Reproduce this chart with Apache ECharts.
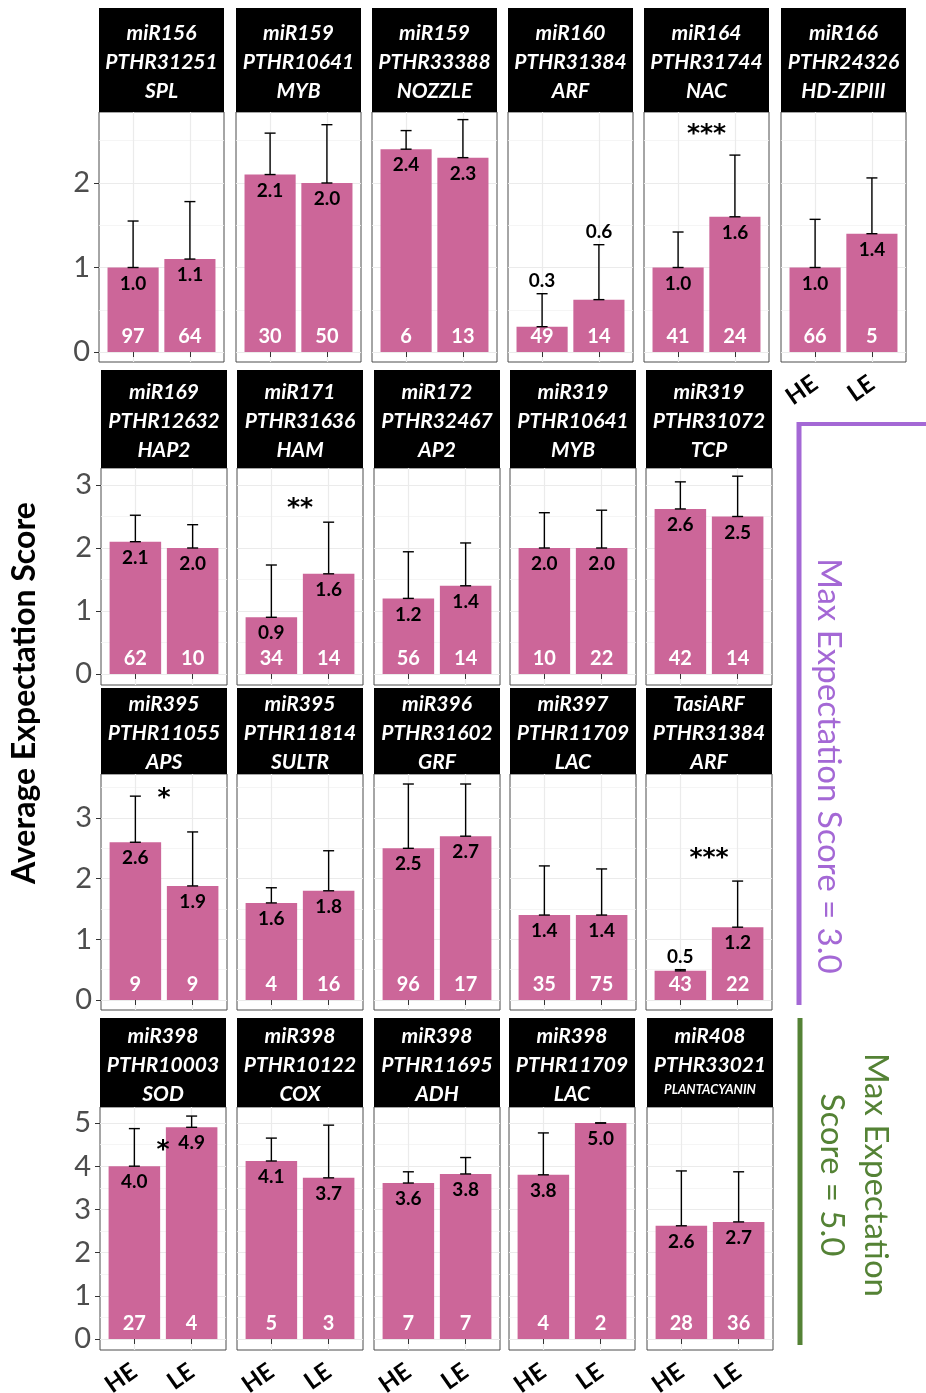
<!DOCTYPE html>
<html>
<head>
<meta charset="utf-8">
<script src="https://cdn.jsdelivr.net/npm/echarts@6/dist/echarts.min.js"></script>
<style>
  html, body { margin: 0; padding: 0; background: #fff; }
  #chart { width: 926px; height: 1393px; }
</style>
</head>
<body>
<div id="chart"></div>
<script>
// groups on the x axis of every facet
const groups = ['HE', 'LE']

// facet strip labels (row by row, left to right)
const mirna = ['miR156', 'miR159', 'miR159', 'miR160', 'miR164', 'miR166',
  'miR169', 'miR171', 'miR172', 'miR319', 'miR319',
  'miR395', 'miR395', 'miR396', 'miR397', 'TasiARF',
  'miR398', 'miR398', 'miR398', 'miR398', 'miR408']
const family = ['PTHR31251', 'PTHR10641', 'PTHR33388', 'PTHR31384', 'PTHR31744', 'PTHR24326',
  'PTHR12632', 'PTHR31636', 'PTHR32467', 'PTHR10641', 'PTHR31072',
  'PTHR11055', 'PTHR11814', 'PTHR31602', 'PTHR11709', 'PTHR31384',
  'PTHR10003', 'PTHR10122', 'PTHR11695', 'PTHR11709', 'PTHR33021']
const gene = ['SPL', 'MYB', 'NOZZLE', 'ARF', 'NAC', 'HD-ZIPIII',
  'HAP2', 'HAM', 'AP2', 'MYB', 'TCP',
  'APS', 'SULTR', 'GRF', 'LAC', 'ARF',
  'SOD', 'COX', 'ADH', 'LAC', 'PLANTACYANIN']

// mean expectation score and top of the error bar
const heMean = [1.0, 2.1, 2.4, 0.3, 1.0, 1.0,
  2.1, 0.9, 1.2, 2.0, 2.62,
  2.6, 1.6, 2.5, 1.4, 0.48,
  4.0, 4.12, 3.61, 3.8, 2.62]
const leMean = [1.1, 2.0, 2.3, 0.62, 1.6, 1.4,
  2.0, 1.59, 1.4, 2.0, 2.5,
  1.88, 1.8, 2.7, 1.4, 1.2,
  4.9, 3.73, 3.82, 5.0, 2.71]
const heUpper = [1.55, 2.59, 2.62, 0.69, 1.42, 1.57,
  2.52, 1.73, 1.94, 2.56, 3.05,
  3.36, 1.85, 3.56, 2.21, 0.5,
  4.87, 4.65, 3.87, 4.77, 3.89]
const leUpper = [1.78, 2.69, 2.75, 1.27, 2.33, 2.06,
  2.37, 2.41, 2.08, 2.6, 3.14,
  2.77, 2.46, 3.56, 2.16, 1.96,
  5.16, 4.95, 4.2, 5.0, 3.87]

// number of genes in each group
const heCount = [97, 30, 6, 49, 41, 66,
  62, 34, 56, 10, 42,
  9, 4, 96, 35, 43,
  27, 5, 7, 4, 28]
const leCount = [64, 50, 13, 14, 24, 5,
  10, 14, 14, 22, 14,
  9, 16, 17, 75, 22,
  4, 3, 7, 2, 36]

// significance stars and their height
const signif = ['', '', '', '', '***', '',
  '', '**', '', '', '',
  '*', '', '', '', '***',
  '*', '', '', '', '']
const signifY = [0, 0, 0, 0, 2.63, 0,
  0, 2.71, 0, 0, 0,
  3.41, 0, 0, 0, 2.42,
  4.49, 0, 0, 0, 0]

// y scale of every row
const rowPanels = [6, 5, 5, 5]
const rowTicks = [[0, 1, 2], [0, 1, 2, 3], [0, 1, 2, 3], [0, 1, 2, 3, 4, 5]]
const rowRange = [[-0.118, 2.84], [-0.175, 3.27], [-0.165, 3.725], [-0.255, 5.37]]

// page layout
const layout = {
  headerTop: [8, 370, 688, 1018],
  panelTop: [112, 468, 774, 1107],
  panelBottom: [362, 685, 1010, 1350],
  colLeft: [[99, 236, 372, 508, 644, 781], [101, 237, 374, 510, 646], [101, 237, 374, 510, 646], [100, 237, 374, 509, 647]],
  panelWidth: [125, 126, 126, 126],
}

const barColor = '#cc6699'
const purple = '#a468d5'
const green = '#548235'

const chart = echarts.init(document.getElementById('chart'), null, { renderer: 'canvas' })

const grids = []
const xAxes = []
const yAxes = []
const series = []
const graphics = []

function renderBarExtras(params, api) {
  const x = api.value(0)
  const m = api.value(1)
  const up = api.value(2)
  const n = api.value(3)
  const pm = api.coord([x, m])
  const pu = api.coord([x, up])
  const p0 = api.coord([x, 0])
  const cap = 5.5
  const ls = { stroke: '#000', lineWidth: 1.4 }
  const labelY = m < 0.7 ? pu[1] - 13 : pm[1] + 16
  return {
    type: 'group',
    children: [
      { type: 'line', shape: { x1: pm[0], y1: pm[1], x2: pu[0], y2: pu[1] }, style: ls },
      { type: 'line', shape: { x1: pu[0] - cap, y1: pu[1], x2: pu[0] + cap, y2: pu[1] }, style: ls },
      { type: 'line', shape: { x1: pm[0] - cap, y1: pm[1], x2: pm[0] + cap, y2: pm[1] }, style: ls },
      {
        type: 'text', x: pm[0], y: labelY,
        style: { text: m.toFixed(1), fill: '#000', fontSize: 19, fontWeight: 'bold', fontFamily: 'Lato', align: 'center', verticalAlign: 'middle' },
      },
      {
        type: 'text', x: p0[0], y: p0[1] - 15,
        style: { text: String(n), fill: '#fff', fontSize: 20, fontWeight: 'bold', fontFamily: 'Lato', align: 'center', verticalAlign: 'middle' },
      },
    ],
  }
}

let p = 0
rowPanels.forEach((count, r) => {
  const [ymin, ymax] = rowRange[r]
  const ticks = rowTicks[r]
  const halves = ticks.map(t => t + 0.5).filter(t => t < ymax)
  for (let c = 0; c < count; c++, p++) {
    const i = p
    const left = layout.colLeft[r][c]
    const width = layout.panelWidth[r]
    const top = layout.panelTop[r]
    const height = layout.panelBottom[r] - top
    const showX = r === 3 || (r === 0 && c === count - 1)

    grids.push({
      left, top, width, height,
      show: true, backgroundColor: '#fff', borderColor: '#4d4d4d', borderWidth: 1,
      containLabel: false, outerBoundsMode: 'none',
    })

    xAxes.push({
      gridIndex: i, type: 'value', min: 0.4, max: 2.6,
      axisLine: { show: false },
      axisTick: { show: true, length: 5, lineStyle: { color: '#333' }, customValues: [1, 2] },
      axisLabel: {
        show: showX, customValues: [1, 2], formatter: v => groups[Math.round(v) - 1],
        rotate: 35, fontSize: 24, fontWeight: 'bold', color: '#000', fontFamily: 'Lato', margin: 19,
      },
      splitLine: { show: true, lineStyle: { color: '#ebebeb', width: 1.2 } },
    })

    yAxes.push({
      gridIndex: i, type: 'value', min: ymin, max: ymax,
      axisLine: { show: false },
      axisTick: { show: c === 0, length: 5, lineStyle: { color: '#333' }, customValues: ticks },
      axisLabel: { show: c === 0, customValues: ticks, fontSize: 29, color: '#4d4d4d', fontFamily: 'Lato', margin: 9 },
      splitLine: { show: true, lineStyle: { color: '#ebebeb', width: 1.2 } },
    })
    yAxes.push({
      gridIndex: i, type: 'value', min: ymin, max: ymax,
      axisLine: { show: false },
      axisTick: { show: false, customValues: halves },
      axisLabel: { show: false },
      splitLine: { show: true, lineStyle: { color: '#f3f3f3', width: 0.8 } },
    })

    const means = [heMean[i], leMean[i]]
    const uppers = [heUpper[i], leUpper[i]]
    const counts = [heCount[i], leCount[i]]

    series.push({
      type: 'bar', xAxisIndex: i, yAxisIndex: 2 * i,
      barWidth: width * 0.9 / 2.2,
      data: groups.map((g, k) => [k + 1, means[k]]),
      itemStyle: { color: barColor },
      silent: true,
    })
    series.push({
      type: 'custom', xAxisIndex: i, yAxisIndex: 2 * i,
      data: groups.map((g, k) => [k + 1, means[k], uppers[k], counts[k]]),
      encode: { x: 0, y: 1 },
      renderItem: renderBarExtras,
      z: 5, silent: true,
    })
    if (signif[i]) {
      const stars = signif[i]
      series.push({
        type: 'custom', xAxisIndex: i, yAxisIndex: 2 * i,
        data: [[1.5, signifY[i]]],
        encode: { x: 0, y: 1 },
        renderItem: (params, api) => {
          const pt = api.coord([api.value(0), api.value(1)])
          return {
            type: 'text', x: pt[0], y: pt[1] + 5,
            style: { text: stars, fill: '#000', fontSize: 25, fontWeight: 'bold', fontFamily: 'DejaVu Sans', align: 'center', verticalAlign: 'middle' },
          }
        },
        z: 5, silent: true,
      })
    }

    // facet strip
    const hTop = layout.headerTop[r]
    const hMid = (hTop + top) / 2 + 2.5
    graphics.push({
      type: 'rect', shape: { x: left, y: hTop, width, height: top - hTop },
      style: { fill: '#000' }, z: 10,
    })
    const lines = [mirna[i], family[i], gene[i]]
    lines.forEach((txt, k) => {
      const small = txt.length > 10
      graphics.push({
        type: 'text', x: left + width / 2, y: hMid + (k - 1) * 29 - (small ? 4 : 0), z: 11,
        style: {
          text: txt, fill: '#fff', fontSize: small ? 13 : 21, fontWeight: 'bold', fontStyle: 'italic',
          fontFamily: 'Lato', align: 'center', verticalAlign: 'middle',
        },
      })
    })
  }
})

// axis title and side annotations
graphics.push(
  {
    type: 'text', x: 25, y: 693, rotation: Math.PI / 2, z: 11,
    style: { text: 'Average Expectation Score', fill: '#000', fontSize: 32, fontWeight: 'bold', fontFamily: 'Lato', align: 'center', verticalAlign: 'middle' },
  },
  { type: 'line', shape: { x1: 797, y1: 424, x2: 926, y2: 424 }, style: { stroke: purple, lineWidth: 4 }, z: 11 },
  { type: 'line', shape: { x1: 799, y1: 422, x2: 799, y2: 1005 }, style: { stroke: purple, lineWidth: 5 }, z: 11 },
  {
    type: 'text', x: 829, y: 766, rotation: -Math.PI / 2, z: 11,
    style: { text: 'Max Expectation Score = 3.0', fill: purple, fontSize: 33, fontFamily: 'Lato', align: 'center', verticalAlign: 'middle' },
  },
  { type: 'line', shape: { x1: 800, y1: 1018, x2: 800, y2: 1345 }, style: { stroke: green, lineWidth: 5 }, z: 11 },
  {
    type: 'text', x: 876, y: 1175, rotation: -Math.PI / 2, z: 11,
    style: { text: 'Max Expectation', fill: green, fontSize: 33, fontFamily: 'Lato', align: 'center', verticalAlign: 'middle' },
  },
  {
    type: 'text', x: 832, y: 1175, rotation: -Math.PI / 2, z: 11,
    style: { text: 'Score = 5.0', fill: green, fontSize: 33, fontFamily: 'Lato', align: 'center', verticalAlign: 'middle' },
  },
)

chart.setOption({
  animation: false,
  backgroundColor: '#fff',
  grid: grids,
  xAxis: xAxes,
  yAxis: yAxes,
  series,
  graphic: graphics,
})
</script>
</body>
</html>
